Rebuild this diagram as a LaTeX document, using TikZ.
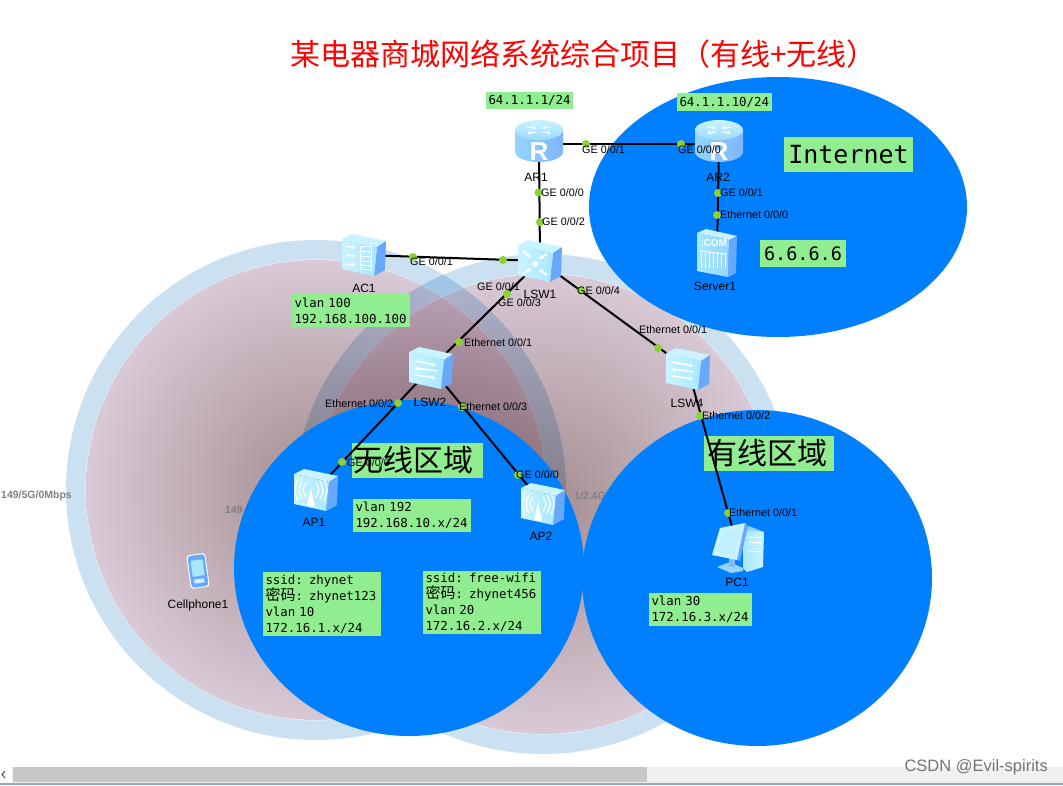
\documentclass[tikz,border=0pt]{standalone}
\usepackage{fontspec}
\usetikzlibrary{arrows.meta}
\setmainfont{Liberation Sans}
\newfontfamily\cjk{Noto Sans CJK SC}
\newfontfamily\mono{DejaVu Sans Mono}
\definecolor{zoneblue}{HTML}{007FFF}
\definecolor{ringblue}{HTML}{CBE1F2}
\definecolor{boxgreen}{HTML}{90EE90}
\definecolor{dotgreen}{HTML}{8CD232}
\definecolor{pinkin}{rgb}{.64,.55,.56}
\definecolor{pinkout}{rgb}{.85,.79,.84}
\definecolor{devtop}{HTML}{C9F3FF}
\definecolor{devpale}{HTML}{A8E8FF}
\definecolor{devside}{HTML}{68A8FA}
\definecolor{barline}{HTML}{8FA8C4}
\pgfdeclareradialshading{coverpink}{\pgfpointorigin}{color(0bp)=(pinkin); color(25bp)=(pinkout); color(50bp)=(pinkout)}
\newcommand{\smallbox}{\mono\fontsize{12.4}{16}\selectfont}
\newcommand{\cjkcode}{{\cjk\fontsize{15}{16}\selectfont 密码}}

\begin{document}
\begin{tikzpicture}[x=1pt, y=-1pt, line cap=butt,
	every node/.style={inner sep=0pt},
	devnode/.style={minimum width=44pt, minimum height=42pt},
	link/.style={line width=2pt, black},
	port/.style={circle, fill=dotgreen, minimum size=8pt},
	portlabel/.style={anchor=west, font=\fontsize{10.8}{12}\selectfont},
	devlabel/.style={font=\fontsize{12}{14}\selectfont},
	hiddenlabel/.style={font=\bfseries\fontsize{10.5}{12}\selectfont, text=black!50},
	infobox/.style={fill=boxgreen, inner xsep=2.5pt, align=left, font=\smallbox},
	zonetitle/.style={fill=boxgreen, align=left, font=\cjk\fontsize{30}{32}\selectfont},
	iconline/.style={white, line width=1.5pt},
	iconarrow/.style={white, line width=1.5pt, -{Stealth[length=4pt, width=4.5pt]}},
	cover/.pic={
		\fill[ringblue, even odd rule] (0,0) circle[radius=250] (0,0) circle[radius=230.5];
		\shade[shading=coverpink] (0,0) circle[radius=230];
	},
	devbox/.pic={
		\fill[devtop] (-22,-16) -- (-12,-21) -- (22,-14) -- (13,-8) -- cycle;
		\fill[devside] (13,-8) -- (22,-14) -- (21,15) -- (10,21) -- cycle;
		\shade[left color=devtop, right color=devpale] (-22,-16) -- (13,-8) -- (10,21) -- (-22,14) -- cycle;
	},
	routericon/.pic={
		\shade[left color=devpale!70!devside, right color=devside!85] (-24,-14) -- (-24,8) arc[start angle=180, end angle=360, x radius=24, y radius=-10] -- (24,-14) -- cycle;
		\shade[top color=devtop, bottom color=devpale!80!devside] (0,-14) ellipse[x radius=24, y radius=10];
		\draw[iconarrow, line width=1pt] (-12,-17) -- (-3,-16);
		\draw[iconarrow, line width=1pt] (12,-17) -- (3,-16);
		\draw[iconarrow, line width=1pt] (-3,-12) -- (-12,-11);
		\draw[iconarrow, line width=1pt] (3,-12) -- (12,-11);
		\node[text=white, font=\bfseries\fontsize{26}{26}\selectfont] (rletter) at (0,8) {R};
	},
	coreicon/.pic={
		\pic {devbox};
		\draw[iconarrow, line width=2pt] (-17,-10) -- (-9,-3);
		\draw[iconarrow, line width=2pt] (7,-7) -- (-1,-2);
		\draw[iconarrow, line width=2pt] (-17,13) -- (-9,7);
		\draw[iconarrow, line width=2pt] (7,14) -- (-1,8);
		\fill[white] (-5,3) circle[radius=3];
	},
	accessicon/.pic={
		\pic {devbox};
		\draw[iconarrow] (-16,-7) -- (5,-3);
		\draw[iconarrow] (6,3) -- (-16,0);
		\draw[iconarrow] (-16,7) -- (5,10);
	},
	acicon/.pic={
		\pic {devbox};
		\draw[iconarrow] (-18,-9) -- (-8,-7);
		\draw[iconarrow] (-18,0) -- (-8,1);
		\draw[iconarrow] (-18,9) -- (-8,10);
		\draw[white, line width=1pt] (-4,-9) rectangle (7,14);
		\foreach \ly in {-4,1,6,10} {\draw[white, line width=1pt] (-4,\ly) -- (7,\ly+1);}
	},
	apicon/.pic={
		\pic {devbox};
		\foreach \ax in {0,1,2} {
			\draw[white, line width=1.2pt] ({-10-4*\ax},{-7-2*\ax}) .. controls ({-14-4*\ax},0) .. ({-10-4*\ax},{7+2*\ax});
			\draw[white, line width=1.2pt] ({0+4*\ax},{-7-2*\ax}) .. controls ({4+4*\ax},0) .. ({0+4*\ax},{7+2*\ax});
		}
		\fill[white] (-5,-2) -- (-9,16) -- (-1,17) -- cycle;
	},
	servericon/.pic={
		\fill[devtop] (-20,-20) -- (-11,-24) -- (20,-17) -- (12,-13) -- cycle;
		\fill[devside] (12,-13) -- (20,-17) -- (19,20) -- (11,24) -- cycle;
		\shade[left color=devpale, right color=devpale!70!devside] (-20,-20) -- (12,-13) -- (11,24) -- (-20,18) -- cycle;
		\node[text=white, font=\bfseries\fontsize{10}{10}\selectfont] (comtext) at (-3,-10) {.COM};
		\foreach \gx in {-16,-12,-8,-4,0,4,8} {\draw[white, line width=.7pt] (\gx,0) -- (\gx,15);}
		\draw[white, line width=1pt] (-17,-2) -- (9,1);
	},
	pcicon/.pic={
		\fill[devpale!60!devside] (5,-18) -- (11,-22) -- (26,-16) -- (9,-10) -- cycle;
		\shade[left color=devpale, right color=devtop] (5,-18) -- (26,-16) -- (25,19) -- (9,24) -- (5,20) -- cycle;
		\draw[white, line width=1pt] (11,-11) -- (24,-10) (11,-6) -- (24,-5) (11,3) -- (24,4);
		\fill[devpale!70!devside] (-21,19) -- (-8,14) -- (5,20) -- (5,23) -- (-7,25) -- cycle;
		\fill[devside!70!devpale] (-9,8) rectangle (-3,19);
		\fill[devside] (7,-25) -- (10,-22) -- (2,13) -- (-1,12) -- cycle;
		\fill[devtop] (-18,-20) -- (7,-25) -- (-1,12) -- (-26,7) -- cycle;
		\fill[white!30!devpale] (-15,-16) -- (3,-20) -- (-3,7) -- (-21,3) -- cycle;
	},
	phoneicon/.pic={
		\begin{scope}[rotate=8]
			\fill[white, rounded corners=3pt] (-9.5,-17) rectangle (9.5,17);
			\fill[devside, rounded corners=3pt] (-8.5,-16) rectangle (8.5,16);
			\fill[devpale] (-6,-11) rectangle (6,5);
			\fill[devtop] (-5,8) rectangle (5,12);
		\end{scope}
	}]
	\useasboundingbox (0,0) rectangle (1063,785);
	\fill[white] (0,0) rectangle (1063,785);

	\begin{scope}[blend mode=multiply]
		\pic at (316,490) {cover};
		\pic at (543,504) {cover};
	\end{scope}
	\node[hiddenlabel, anchor=east] (rate5g) at (72,496) {149/5G/0Mbps};
	\node[hiddenlabel, anchor=west] (rate5gb) at (225,510) {149};
	\node[hiddenlabel, anchor=west] (rate24g) at (574,496) {1/2.4G};

	\fill[zoneblue] (778,207) ellipse[x radius=189, y radius=130];
	\fill[zoneblue] (409,568) ellipse[x radius=175, y radius=168];
	\fill[zoneblue] (757,578) ellipse[x radius=175, y radius=168];

	\node[text=red, font=\cjk\fontsize{30}{32}\selectfont] (title) at (583.5,54) {某电器商城网络系统综合项目（有线+无线）};

	\node[infobox, text width=82pt, minimum height=17pt] (ipar1) at (529.5,100.5) {64.1.1.1/24};
	\node[infobox, text width=90pt, minimum height=18pt] (ipar2) at (724.5,102) {64.1.1.10/24};
	\node[infobox, text width=113pt, minimum height=33pt] (ipac) at (351,310.5) {vlan 100\\192.168.100.100};
	\node[infobox, text width=113pt, minimum height=33pt] (ipap) at (412,515.5) {vlan 192\\192.168.10.x/24};
	\node[infobox, text width=113pt, minimum height=64pt] (ssidone) at (322,604) {ssid: zhynet\\\cjkcode: zhynet123\\vlan 10\\172.16.1.x/24};
	\node[infobox, text width=113pt, minimum height=63pt] (ssidtwo) at (482,602.5) {ssid: free-wifi\\\cjkcode: zhynet456\\vlan 20\\172.16.2.x/24};
	\node[infobox, text width=98pt, minimum height=33pt] (ippc) at (700.5,609.5) {vlan 30\\172.16.3.x/24};
	\node[fill=boxgreen, minimum width=129pt, minimum height=35pt, font=\mono\fontsize{25}{27}\selectfont] (inet) at (848.5,154.5) {Internet};
	\node[fill=boxgreen, minimum width=86pt, minimum height=27pt, font=\mono\fontsize{18.5}{20}\selectfont] (ipserver) at (803,253.5) {6.6.6.6};
	\node[zonetitle, inner xsep=1pt, text width=129pt, minimum height=35pt] (wifizone) at (417.5,460.5) {无线区域};
	\node[zonetitle, inner xsep=3.5pt, text width=123pt, minimum height=35pt] (wiredzone) at (769,453.5) {有线区域};

	\foreach \n/\x/\y in {AR1/539/144, AR2/719/144, Server1/717/253, LSW1/540/261, AC1/364/255, LSW2/431/368, LSW4/688/369, AP1/316/490, AP2/543/504, PC1/738/548, Cellphone1/198/571} {
		\node[devnode] (\n) at (\x,\y) {};
	}

	\draw[link] (AR1.center) -- (AR2.center);
	\draw[link] (AR1.center) -- (LSW1.center);
	\draw[link] (AR2.center) -- (Server1.center);
	\draw[link] (AC1.center) -- (LSW1.center);
	\draw[link] (LSW1.center) -- (LSW2.center);
	\draw[link] (LSW1.center) -- (LSW4.center);
	\draw[link] (LSW2.center) -- (AP1.center);
	\draw[link] (LSW2.center) -- (AP2.center);
	\draw[link] (LSW4.center) -- (PC1.center);

	\pic at (AR1) {routericon};
	\pic at (AR2) {routericon};
	\pic at (Server1) {servericon};
	\pic at (LSW1) {coreicon};
	\pic at (AC1) {acicon};
	\pic at (LSW2) {accessicon};
	\pic at (LSW4) {accessicon};
	\pic at (AP1) {apicon};
	\pic at (AP2) {apicon};
	\pic at (PC1) {pcicon};
	\pic at (Cellphone1) {phoneicon};

	\foreach \n/\x/\y/\lx/\ly/\txt in {
		1/586/144/582/150/{GE 0/0/1}, 2/681/144/678/150/{GE 0/0/0},
		3/538.5/192.5/541/193/{GE 0/0/0}, 4/540/222/542/222/{GE 0/0/2},
		5/718/193/720/193/{GE 0/0/1}, 6/717/215/720/215/{Ethernet 0/0/0},
		7/413/257/410/262/{GE 0/0/1}, 8/503/260/477/287/{GE 0/0/1},
		9/507/294/498/303/{GE 0/0/3}, 10/459/342/464/343/{Ethernet 0/0/1},
		11/398/403/325/404/{Ethernet 0/0/2}, 12/342/462/347/463/{GE 0/0/0},
		13/462/407/459/407/{Ethernet 0/0/3}, 14/518/475/516/475/{GE 0/0/0},
		15/581/290/577/291/{GE 0/0/4}, 16/658/348/639/330/{Ethernet 0/0/1},
		17/700/416/702/416/{Ethernet 0/0/2}, 18/728/513/729/513/{Ethernet 0/0/1}} {
		\node[port] (p\n) at (\x,\y) {};
		\node[portlabel] (t\n) at (\lx,\ly) {\txt};
	}

	\foreach \n/\x/\y in {AR1/536/177, AR2/718/177, Server1/715/286.5, LSW1/540/294, AC1/364/288, LSW2/430/402, LSW4/687/403, AP1/314/522, AP2/541/536, PC1/737/582, Cellphone1/198/605} {
		\node[devlabel] (name\n) at (\x,\y) {\n};
	}

	\fill[black!6] (0,767) rectangle (1063,783);
	\fill[black!22] (13,767) rectangle (647,782);
	\fill[white] (0,767) rectangle (12,783);
	\draw[black!70, line width=1pt] (5,771) -- (2,774.5) -- (5,778);
	\fill[barline] (0,783) rectangle (1063,785);
	\node[anchor=east, text=black!55, font=\fontsize{16.5}{18}\selectfont] (mark) at (1048,767) {CSDN @Evil-spirits};
\end{tikzpicture}
\end{document}
